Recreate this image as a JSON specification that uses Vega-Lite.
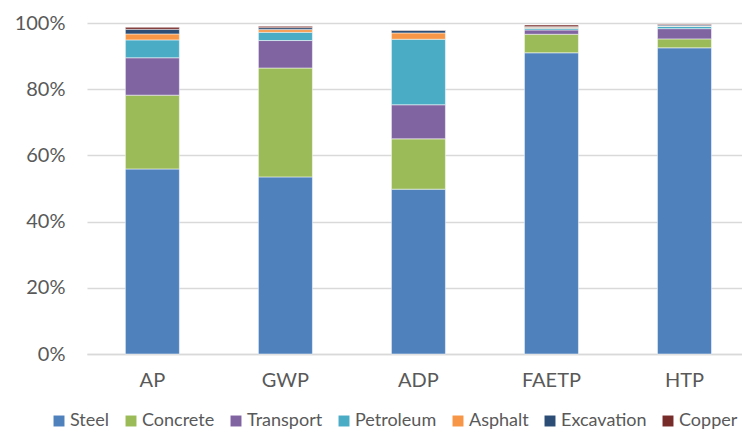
{
  "$schema": "https://vega.github.io/schema/vega-lite/v6.json",
  "autosize": "none",
  "width": 655,
  "height": 331,
  "padding": {"left": 87, "top": 23, "right": 0, "bottom": 78},
  "background": "white",
  "config": {
    "view": {"stroke": null},
    "font": "Lato",
    "axis": {"labelFont": "Lato", "labelColor": "#595959", "labelFontSize": 20},
    "legend": {"labelFont": "Lato", "labelColor": "#595959", "labelFontSize": 18}
  },
  "data": {
    "values": [
      {"cat": "AP", "mat": "Steel", "v": 55.9},
      {"cat": "AP", "mat": "Concrete", "v": 22.3},
      {"cat": "AP", "mat": "Transport", "v": 11.3},
      {"cat": "AP", "mat": "Petroleum", "v": 5.4},
      {"cat": "AP", "mat": "Asphalt", "v": 1.8},
      {"cat": "AP", "mat": "Excavation", "v": 1.4},
      {"cat": "AP", "mat": "Copper", "v": 0.6},
      {"cat": "GWP", "mat": "Steel", "v": 53.5},
      {"cat": "GWP", "mat": "Concrete", "v": 32.9},
      {"cat": "GWP", "mat": "Transport", "v": 8.3},
      {"cat": "GWP", "mat": "Petroleum", "v": 2.5},
      {"cat": "GWP", "mat": "Asphalt", "v": 0.8},
      {"cat": "GWP", "mat": "Excavation", "v": 0.6},
      {"cat": "GWP", "mat": "Copper", "v": 0.4},
      {"cat": "ADP", "mat": "Steel", "v": 49.8},
      {"cat": "ADP", "mat": "Concrete", "v": 15.2},
      {"cat": "ADP", "mat": "Transport", "v": 10.3},
      {"cat": "ADP", "mat": "Petroleum", "v": 19.8},
      {"cat": "ADP", "mat": "Asphalt", "v": 1.9},
      {"cat": "ADP", "mat": "Excavation", "v": 0.8},
      {"cat": "ADP", "mat": "Copper", "v": 0.1},
      {"cat": "FAETP", "mat": "Steel", "v": 91.0},
      {"cat": "FAETP", "mat": "Concrete", "v": 5.6},
      {"cat": "FAETP", "mat": "Transport", "v": 1.3},
      {"cat": "FAETP", "mat": "Petroleum", "v": 0.5},
      {"cat": "FAETP", "mat": "Asphalt", "v": 0.3},
      {"cat": "FAETP", "mat": "Excavation", "v": 0.2},
      {"cat": "FAETP", "mat": "Copper", "v": 0.5},
      {"cat": "HTP", "mat": "Steel", "v": 92.5},
      {"cat": "HTP", "mat": "Concrete", "v": 2.7},
      {"cat": "HTP", "mat": "Transport", "v": 3.1},
      {"cat": "HTP", "mat": "Petroleum", "v": 0.7},
      {"cat": "HTP", "mat": "Asphalt", "v": 0.1},
      {"cat": "HTP", "mat": "Excavation", "v": 0.3},
      {"cat": "HTP", "mat": "Copper", "v": 0.2}
    ]
  },
  "transform": [
    {"calculate": "indexof(['Steel','Concrete','Transport','Petroleum','Asphalt','Excavation','Copper'], datum.mat)", "as": "stackOrder"}
  ],
  "mark": {"type": "bar", "stroke": "white", "strokeWidth": 0.5},
  "encoding": {
    "x": {
      "field": "cat", "type": "nominal", "sort": null,
      "scale": {"paddingInner": 0.594, "paddingOuter": 0.259, "align": 0.557},
      "axis": {"title": null, "labelAngle": 0, "ticks": false, "domain": true, "domainColor": "#d9d9d9", "domainWidth": 1.5, "labelPadding": 16}
    },
    "y": {
      "field": "v", "type": "quantitative", "stack": "zero",
      "scale": {"domain": [0, 100], "nice": false},
      "axis": {"title": null, "values": [0, 20, 40, 60, 80, 100], "labelExpr": "datum.value + '%'", "ticks": false, "domain": false, "gridColor": "#d9d9d9", "gridWidth": 1.5, "labelPadding": 22}
    },
    "order": {"field": "stackOrder", "type": "quantitative", "sort": "ascending"},
    "color": {
      "field": "mat", "type": "nominal",
      "sort": ["Steel", "Concrete", "Transport", "Petroleum", "Asphalt", "Excavation", "Copper"],
      "scale": {
        "domain": ["Steel", "Concrete", "Transport", "Petroleum", "Asphalt", "Excavation", "Copper"],
        "range": ["#4f81bd", "#9bbb59", "#8064a2", "#4bacc6", "#f79646", "#2c4d75", "#772c2a"]
      },
      "legend": {
        "title": null, "orient": "none", "legendX": -37, "legendY": 389,
        "direction": "horizontal", "columns": 7, "symbolType": "square",
        "symbolSize": 120, "symbolStrokeWidth": 0, "labelOffset": 2, "columnPadding": 12
      }
    }
  }
}
